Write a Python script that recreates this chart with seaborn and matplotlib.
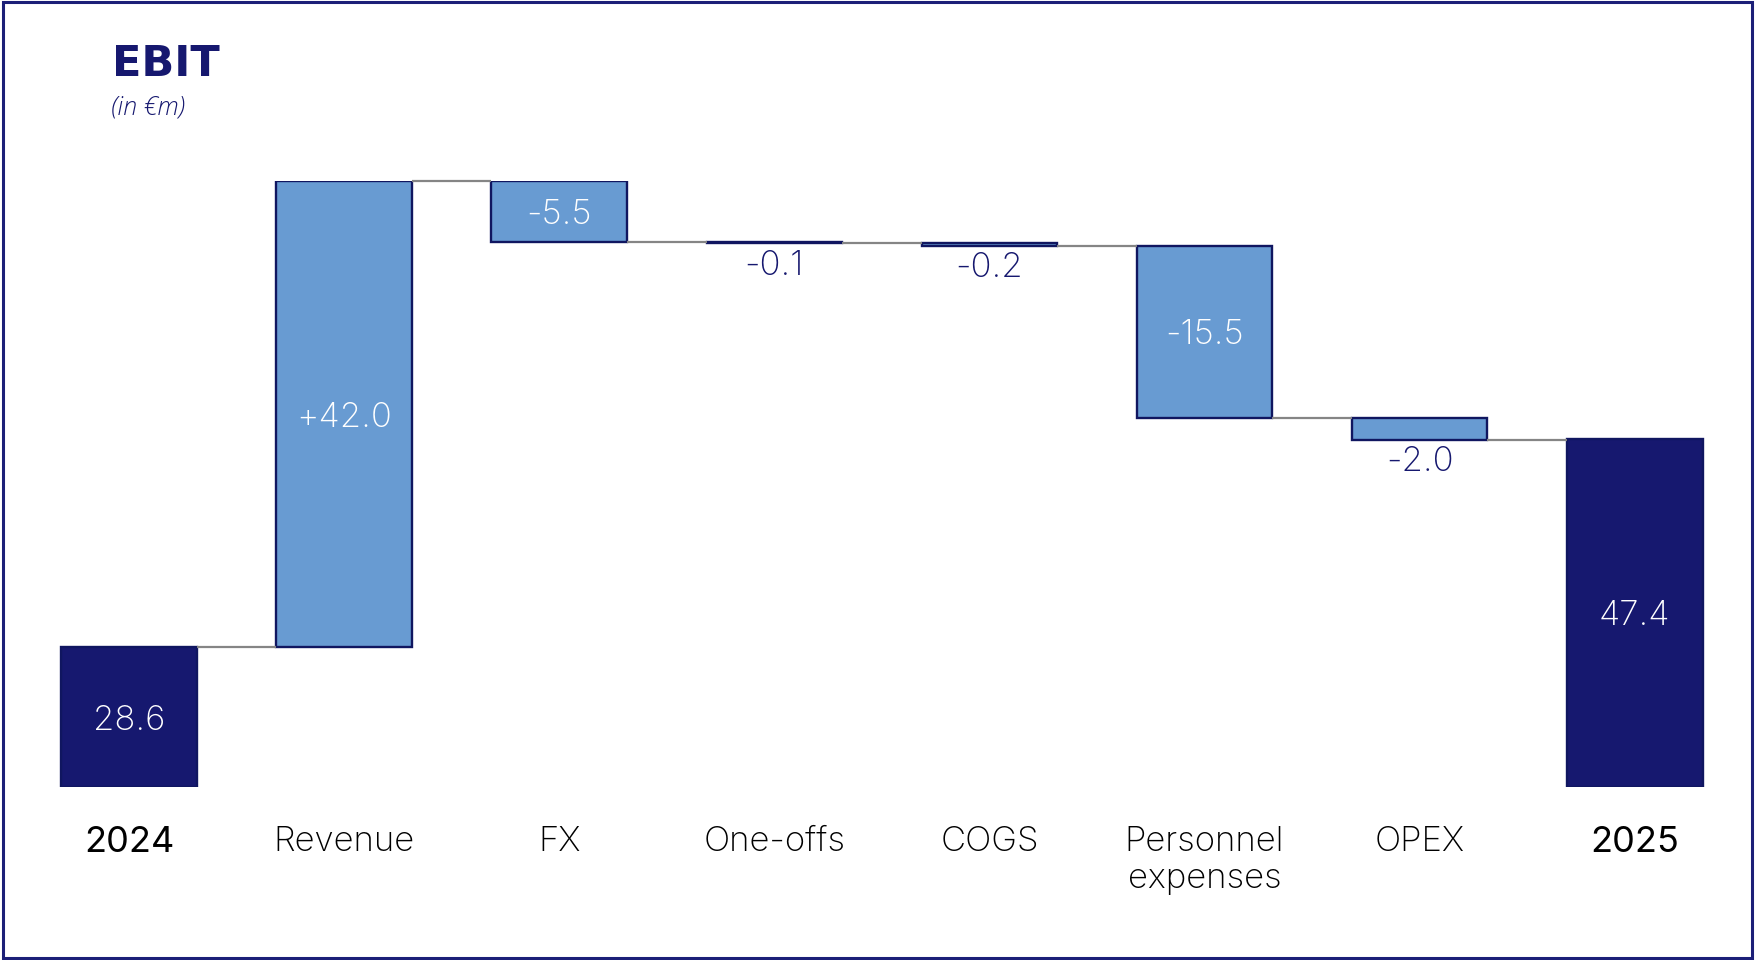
import numpy as np
import pandas as pd
import matplotlib
matplotlib.use("Agg")
import matplotlib.pyplot as plt
import seaborn as sns
from matplotlib.patches import Rectangle

# ---- data -------------------------------------------------------------
categories = ["2024", "Revenue", "FX", "One-offs", "COGS",
              "Personnel\nexpenses", "OPEX", "2025"]
start_total = 28.6
end_total = 47.4
delta_categories = ["Revenue", "FX", "One-offs", "COGS",
                    "Personnel\nexpenses", "OPEX"]
delta_values = [42.0, -5.5, -0.1, -0.2, -15.5, -2.0]
value_texts = ["28.6", "+42.0", "-5.5", "-0.1", "-0.2", "-15.5", "-2.0", "47.4"]

# the value axis is broken: totals are drawn up from this floor
axis_floor = 16.0

# ---- style ------------------------------------------------------------
NAVY = "#16186F"
EDGE = "#101660"
LIGHT = "#689BD2"
GREY = "#858585"
FONT = ["Inter", "DejaVu Sans"]
DPI = 100

sns.set_theme(style="white")
plt.rcParams["font.family"] = FONT

fig = plt.figure(figsize=(17.55, 9.6), dpi=DPI)
ax = fig.add_axes([0.0122, 0.180, 0.9806, 0.6312])

# running levels of the bridge
levels = start_total + np.cumsum(delta_values)
prev_levels = np.concatenate([[start_total], levels[:-1]])
delta_bottoms = np.minimum(prev_levels, levels)
delta_heights = np.abs(delta_values)

totals = pd.DataFrame({"cat": [categories[0], categories[-1]],
                       "h": [start_total - axis_floor, end_total - axis_floor]})
deltas = pd.DataFrame({"cat": delta_categories, "h": delta_heights})

bar_w = 0.63
sns.barplot(data=totals, x="cat", y="h", order=categories, bottom=axis_floor,
            color=NAVY, saturation=1, width=bar_w, errorbar=None,
            edgecolor=EDGE, linewidth=1.7, ax=ax)
sns.barplot(data=deltas, x="cat", y="h", order=categories, bottom=delta_bottoms,
            color=LIGHT, saturation=1, width=bar_w, errorbar=None,
            edgecolor=EDGE, linewidth=1.7, ax=ax)

ax.set_xlim(-0.5, len(categories) - 0.5)
ax.set_ylim(axis_floor, max(levels.max(), end_total))

# connector lines between neighbouring bars
conn_levels = np.concatenate([[start_total], levels])
for i, lvl in enumerate(conn_levels):
    ax.plot([i + bar_w / 2, i + 1 - bar_w / 2], [lvl, lvl],
            color=GREY, lw=1.6, solid_capstyle="butt", zorder=1, clip_on=False)

# value labels: inside the bar in white, below it in navy when the bar is too thin
px_per_unit = ax.get_window_extent().height / (ax.get_ylim()[1] - ax.get_ylim()[0])
label_size = 25
digit_px = label_size * DPI / 72 * 0.73
tops = np.concatenate([[start_total], np.maximum(prev_levels, levels), [end_total]])
bottoms = np.concatenate([[axis_floor], delta_bottoms, [axis_floor]])
for i, txt in enumerate(value_texts):
    bar_px = (tops[i] - bottoms[i]) * px_per_unit
    if bar_px < 1.4 * digit_px:
        ax.text(i, bottoms[i] - 0.6, txt, ha="center", va="top",
                fontsize=label_size, color=NAVY, fontweight="light", clip_on=False)
    else:
        ax.text(i, (tops[i] + bottoms[i]) / 2, txt, ha="center", va="center_baseline",
                fontsize=label_size, color="white", fontweight="light")

# axes cosmetics
for s in ax.spines.values():
    s.set_visible(False)
ax.set_yticks([])
ax.set_xlabel("")
ax.set_ylabel("")
ax.set_xticks(range(len(categories)))
ax.set_xticklabels(categories, fontsize=25, color="black", va="top",
                   linespacing=1.2)
ax.tick_params(axis="x", length=0, pad=28)
for lab in ax.get_xticklabels():
    if lab.get_text() in ("2024", "2025"):
        lab.set_fontweight("normal")
        lab.set_fontsize(26)
    else:
        lab.set_fontweight("light")

# title block
fig.text(0.064, 0.933, "EBIT", fontsize=31, fontweight="bold", color=NAVY,
         family="DejaVu Sans", va="center", ha="left")
fig.text(0.063, 0.887, "(in €m)", fontsize=18, style="italic", fontweight="light",
         color=NAVY, family=["Open Sans", "DejaVu Sans"], va="center", ha="left")

# frame around the whole graphic
fig.patches.append(Rectangle((0.0015, 0.002), 0.997, 0.996, transform=fig.transFigure,
                             fill=False, edgecolor="#1C1F78", linewidth=2.2))

fig.savefig("out.png", dpi=DPI, facecolor="white")
